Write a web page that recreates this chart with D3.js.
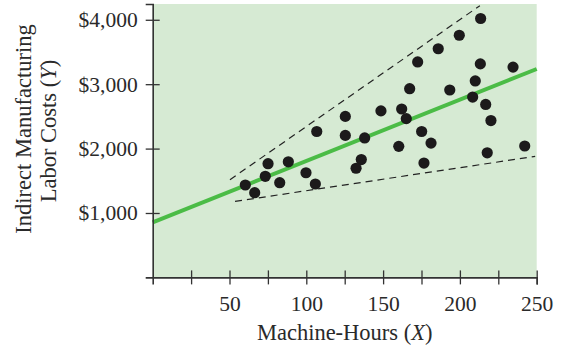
<!DOCTYPE html>
<html>
<head>
<meta charset="utf-8">
<script src="https://cdn.jsdelivr.net/npm/d3@7"></script>
<style>
  body { margin: 0; background: #fff; }
  svg text { font-family: "Liberation Serif", serif; fill: #2a2a2a; }
</style>
</head>
<body>
<div class="container_main"></div>
<script>
// machine-hours (X) and indirect labor costs (Y)
const machineHours = [213.5, 199.6, 185.9, 172.5, 213.3, 234.6, 210.0, 167.3, 193.4, 208.3,
                      216.8, 148.6, 162.1, 125.4, 165.1, 220.2, 106.8, 175.1, 125.4, 138.0,
                      181.2, 160.2, 242.2, 217.8, 135.8, 132.4, 176.6, 75.1, 88.3, 99.8,
                      73.3, 60.3, 66.4, 82.7, 105.9];
const laborCosts = [4020, 3760, 3550, 3345, 3315, 3265, 3050, 2930, 2910, 2800,
                    2685, 2585, 2615, 2500, 2465, 2435, 2265, 2265, 2205, 2165,
                    2085, 2035, 2040, 1935, 1830, 1695, 1775, 1765, 1795, 1625,
                    1570, 1435, 1315, 1470, 1450];
// regression line and the two dashed bounds, as [x, y] end points
const fitLine = [[0, 854], [250, 3236]];
const upperBound = [[50.3, 1517], [213, 4219]];
const lowerBound = [[53.6, 1180], [249, 1879]];
const yTicks = [1000, 2000, 3000, 4000];
const xTicks = [25, 50, 75, 100, 125, 150, 175, 200, 225, 250];

const svgwidth = 570, svgheight = 348;
const plotLeft = 152.7, plotRight = 536.7, plotTop = 4, plotBottom = 277.4;

const svg = d3.select(".container_main")
  .append("svg")
  .attr("width", svgwidth)
  .attr("height", svgheight);

const posX = d3.scaleLinear().domain([0, 250]).range([plotLeft, plotRight]);
const posY = d3.scaleLinear().domain([0, 4245]).range([plotBottom, plotTop]);

// plot background
svg.append("rect")
  .attr("x", plotLeft).attr("y", plotTop)
  .attr("width", plotRight - plotLeft).attr("height", plotBottom - plotTop)
  .attr("fill", "#d6ead3");

const line = d3.line().x(d => posX(d[0])).y(d => posY(d[1]));

[upperBound, lowerBound].forEach(b => {
  svg.append("path")
    .attr("d", line(b))
    .attr("fill", "none")
    .attr("stroke", "#222")
    .attr("stroke-width", 1.2)
    .attr("stroke-dasharray", "7,5");
});

svg.append("path")
  .attr("d", line(fitLine))
  .attr("fill", "none")
  .attr("stroke", "#4bbc46")
  .attr("stroke-width", 4);

svg.selectAll(".markers")
  .data(machineHours)
  .enter()
  .append("circle")
    .attr("class", "markers")
    .attr("cx", d => posX(d))
    .attr("cy", (d, i) => posY(laborCosts[i]))
    .attr("r", 5.6)
    .attr("fill", "#1c1a1b");

// axes with ticks crossing the axis line
const yAxis = svg.append("g")
  .attr("transform", "translate(" + plotLeft + ",0)")
  .call(d3.axisLeft(posY).tickValues(yTicks).tickSize(7).tickPadding(8)
    .tickFormat(d => "$" + d3.format(",")(d)));
yAxis.selectAll(".tick line").attr("x1", 7).attr("x2", -7);

const xAxis = svg.append("g")
  .attr("transform", "translate(0," + plotBottom + ")")
  .call(d3.axisBottom(posX).tickValues(xTicks).tickSize(7).tickPadding(11)
    .tickFormat(d => d % 50 === 0 ? d : ""));
xAxis.selectAll(".tick line").attr("y1", -7).attr("y2", 7);

[yAxis, xAxis].forEach(a => {
  a.select(".domain").attr("stroke", "#333").attr("stroke-width", 1.6);
  a.selectAll(".tick line").attr("stroke", "#333").attr("stroke-width", 1.3);
  a.selectAll(".tick text")
    .attr("font-size", "21.5px")
    .attr("font-family", "Liberation Serif, serif")
    .attr("fill", "#2a2a2a");
});

// axis titles
const xt = svg.append("text")
  .attr("x", (plotLeft + plotRight) / 2)
  .attr("y", 340)
  .attr("text-anchor", "middle")
  .attr("font-size", "22.5px");
xt.append("tspan").text("Machine-Hours (");
xt.append("tspan").attr("font-style", "italic").text("X");
xt.append("tspan").text(")");

const yt = svg.append("text")
  .attr("transform", "translate(31,129) rotate(-90)")
  .attr("text-anchor", "middle")
  .attr("font-size", "22.5px");
yt.append("tspan").attr("x", 0).attr("y", 0).text("Indirect Manufacturing");
const l2 = svg.append("text")
  .attr("transform", "translate(56,131) rotate(-90)")
  .attr("text-anchor", "middle")
  .attr("font-size", "22.5px");
l2.append("tspan").text("Labor Costs (");
l2.append("tspan").attr("font-style", "italic").text("Y");
l2.append("tspan").text(")");
</script>
</body>
</html>
